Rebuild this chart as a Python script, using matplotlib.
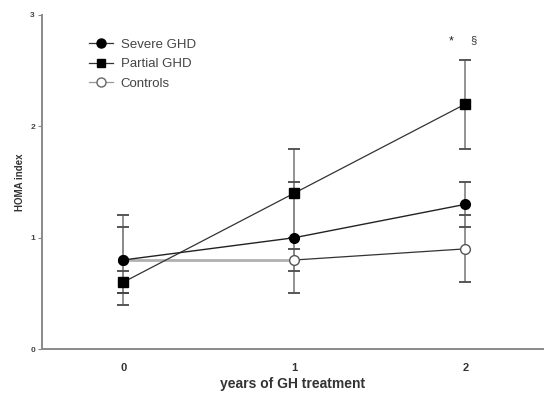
import matplotlib
matplotlib.use("Agg")
import matplotlib.pyplot as plt
from matplotlib.lines import Line2D

plt.rcParams['font.family'] = ['Liberation Sans', 'DejaVu Sans']

# data
years = [0, 1, 2]
severe = [0.8, 1.0, 1.3]
severe_err = [0.4, 0.5, 0.2]
partial = [0.6, 1.4, 2.2]
partial_err = [0.1, 0.4, 0.4]
controls = [0.8, 0.8, 0.9]
controls_err = [0.3, 0.1, 0.3]

xtick_labels = ["0", "1", "2"]
ytick_vals = [0, 1, 2, 3]

fig = plt.figure(figsize=(5.44, 4.05), dpi=100)
ax = fig.add_axes([0.077, 0.138, 0.923, 0.825])

err_kw = dict(fmt='none', ecolor='#8a8a8a', elinewidth=1.3, capsize=4, capthick=1.1, zorder=1)
ax.errorbar(years, severe, yerr=severe_err, **err_kw)
ax.errorbar(years, partial, yerr=partial_err, **err_kw)
ax.errorbar(years, controls, yerr=controls_err, **err_kw)

# caps drawn darker
for series, err in [(severe, severe_err), (partial, partial_err), (controls, controls_err)]:
    lo = [v - e for v, e in zip(series, err)]
    hi = [v + e for v, e in zip(series, err)]
    ax.plot(years, lo, linestyle='none', marker='_', markersize=8, mew=1.1, color='#444444', zorder=2)
    ax.plot(years, hi, linestyle='none', marker='_', markersize=8, mew=1.1, color='#444444', zorder=2)

ax.plot(years, partial, color='#333333', lw=0.9, marker='s', markersize=6.5,
        markerfacecolor='black', markeredgecolor='black', zorder=3)
ax.plot(years[:2], controls[:2], color='#b0b0b0', lw=2.0, zorder=2.5)
ax.plot(years[1:], controls[1:], color='#333333', lw=0.9, zorder=2.5)
ax.plot(years, controls, linestyle='none', marker='o', markersize=7,
        markerfacecolor='white', markeredgecolor='#555555', markeredgewidth=1.0, zorder=3)
ax.plot(years, severe, color='#222222', lw=1.0, marker='o', markersize=7,
        markerfacecolor='black', markeredgecolor='black', zorder=4)

ax.text(1.92, 2.76, "*", fontsize=9, ha='center', va='center', color='#222222')
ax.text(2.05, 2.77, "§", fontsize=8, ha='center', va='center', color='#333333')

ax.set_xlim(-0.475, 2.46)
ax.set_ylim(0, 3)
ax.set_xticks(years)
ax.set_xticklabels(xtick_labels, fontsize=8, fontweight='bold', color='#333333')
ax.set_yticks(ytick_vals)
ax.set_yticklabels([str(v) for v in ytick_vals], fontsize=6, fontweight='bold', color='#444444')
ax.tick_params(axis='x', length=0, pad=10)
ax.tick_params(axis='y', length=3, width=0.8, color='#888888', pad=2)

for side in ['top', 'right']:
    ax.spines[side].set_visible(False)
for side in ['left', 'bottom']:
    ax.spines[side].set_color('#8a8a8a')
    ax.spines[side].set_linewidth(1.4)

ax.set_xlabel("years of GH treatment", fontsize=10, fontweight='bold', color='#333333', labelpad=3)
ax.set_ylabel("HOMA index", fontsize=7, fontweight='bold', color='#333333', labelpad=4)

handles = [
    Line2D([], [], color='#333333', lw=0.9, marker='o', markersize=6.5, markerfacecolor='black', markeredgecolor='black'),
    Line2D([], [], color='#333333', lw=0.9, marker='s', markersize=6, markerfacecolor='black', markeredgecolor='black'),
    Line2D([], [], color='#999999', lw=0.9, marker='o', markersize=6.5, markerfacecolor='white', markeredgecolor='#666666'),
]
ax.legend(handles, ["Severe GHD", "Partial GHD", "Controls"], loc='upper left',
          bbox_to_anchor=(0.07, 0.965), frameon=False, fontsize=9.5, handlelength=1.8,
          handletextpad=0.6, labelspacing=0.55, labelcolor='#444444')

fig.savefig("out.png", dpi=100)
